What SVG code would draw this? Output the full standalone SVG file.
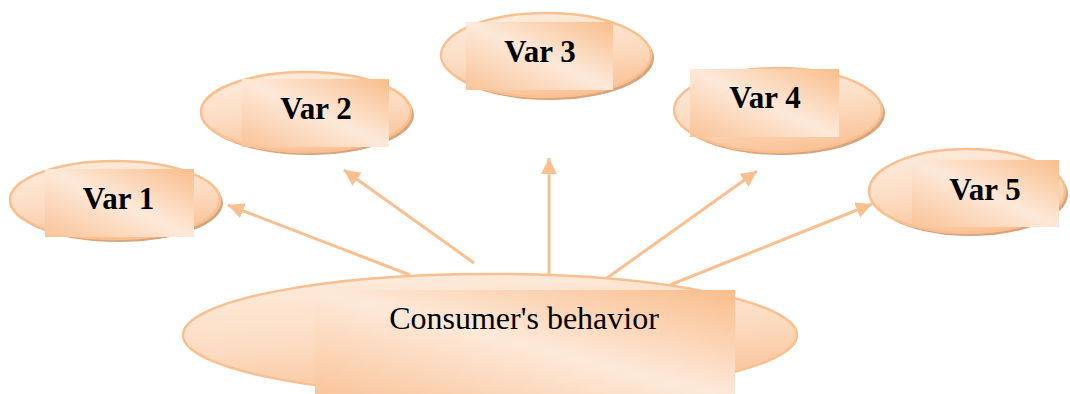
<svg xmlns="http://www.w3.org/2000/svg" width="1070" height="394" viewBox="0 0 1070 394">
<style>
.ell{fill:url(#eg);stroke:#f9bf8f;stroke-width:2.5}
.sh{fill:#d6a47d}
.rc{fill:url(#rg)}
.var{font-family:"Liberation Serif","Times New Roman",serif;font-weight:bold;font-size:31px;fill:#000;text-anchor:middle}
.main{font-family:"Liberation Serif","Times New Roman",serif;font-size:32px;fill:#000;text-anchor:middle}
.con{stroke:#f9bf8f;stroke-width:3;fill:none;marker-end:url(#ah)}
</style>
<defs>
<linearGradient id="eg" x1="0.3" y1="0" x2="0.6" y2="1">
<stop offset="0" stop-color="#fdebdc"/>
<stop offset="0.5" stop-color="#fcdcc2"/>
<stop offset="1" stop-color="#f9c296"/>
</linearGradient>
<linearGradient id="rg" x1="1" y1="0" x2="0" y2="1">
<stop offset="0" stop-color="#f9bd8c"/>
<stop offset="0.5" stop-color="#fde9d9"/>
<stop offset="1" stop-color="#f9c398"/>
</linearGradient>
<marker id="ah" markerUnits="userSpaceOnUse" markerWidth="20" markerHeight="18" refX="16" refY="8" orient="auto">
<path d="M0,0 L16,8 L0,16 Z" fill="#f9bf8f"/>
</marker>
</defs>
<g id="connectors">
<line class="con" x1="410" y1="275" x2="228" y2="205"/>
<line class="con" x1="474" y1="263" x2="344" y2="170"/>
<line class="con" x1="549" y1="275" x2="549" y2="158"/>
<line class="con" x1="607" y1="278" x2="757" y2="171"/>
<line class="con" x1="670" y1="285" x2="872" y2="204"/>
</g>
<g id="var1">
<ellipse class="sh" cx="118" cy="203" rx="105" ry="39"/>
<ellipse class="ell" cx="115" cy="200" rx="105" ry="39"/>
<rect class="rc" x="45" y="169" width="149" height="68"/>
<text class="var" x="118.5" y="209">Var 1</text>
</g>
<g id="var2">
<ellipse class="sh" cx="309" cy="115" rx="105" ry="40"/>
<ellipse class="ell" cx="306" cy="112" rx="105" ry="40"/>
<rect class="rc" x="242" y="79" width="147" height="68"/>
<text class="var" x="316" y="119">Var 2</text>
</g>
<g id="var3">
<ellipse class="sh" cx="549" cy="58" rx="105" ry="42"/>
<ellipse class="ell" cx="546" cy="55" rx="105" ry="42"/>
<rect class="rc" x="466" y="22" width="147" height="68"/>
<text class="var" x="540" y="62">Var 3</text>
</g>
<g id="var4">
<ellipse class="sh" cx="781" cy="113" rx="104" ry="42"/>
<ellipse class="ell" cx="778" cy="110" rx="104" ry="42"/>
<rect class="rc" x="690" y="69" width="149" height="68"/>
<text class="var" x="765" y="108">Var 4</text>
</g>
<g id="var5">
<ellipse class="sh" cx="970" cy="194" rx="98" ry="42"/>
<ellipse class="ell" cx="967" cy="191" rx="98" ry="42"/>
<rect class="rc" x="912" y="160" width="147" height="67"/>
<text class="var" x="985" y="200">Var 5</text>
</g>
<g id="consumer">
<ellipse class="ell" cx="490" cy="335" rx="307" ry="61"/>
<rect class="rc" x="315" y="290" width="420" height="110"/>
<text class="main" x="524" y="329">Consumer's behavior</text>
</g>
</svg>
